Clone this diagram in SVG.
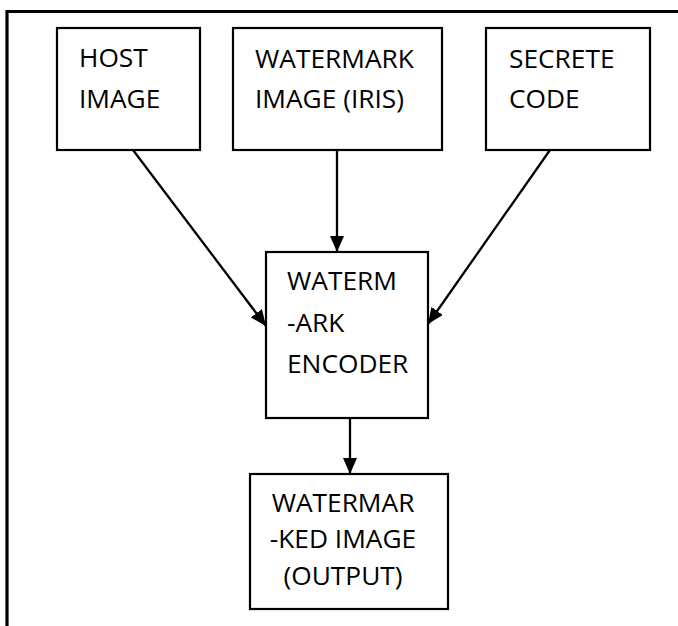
<svg xmlns="http://www.w3.org/2000/svg" width="678" height="626" viewBox="0 0 678 626">
<style>
.box{fill:#fff;stroke:#000;stroke-width:2.2}
.t{font-family:"Open Sans","Liberation Sans",sans-serif;font-size:26.3px;fill:#000}
.c{stroke:#000;stroke-width:2.3;fill:none}
</style>
<defs>
<marker id="ah" markerWidth="16" markerHeight="14" refX="16" refY="7" orient="auto" markerUnits="userSpaceOnUse">
<path d="M0,0 L16,7 L0,14 Z" fill="#000"/>
</marker>
</defs>
<rect width="678" height="626" fill="#fff"/>
<g id="frame">
<path d="M7,626 V11.5 H678" fill="none" stroke="#000" stroke-width="3.2"/>
</g>
<g id="host">
<rect class="box" x="57" y="28" width="143" height="122"/>
<text class="t" x="79" y="67">HOST</text>
<text class="t" x="79" y="108">IMAGE</text>
</g>
<g id="watermark">
<rect class="box" x="233" y="28" width="209" height="122"/>
<text class="t" x="255" y="68">WATERMARK</text>
<text class="t" x="255" y="108">IMAGE (IRIS)</text>
</g>
<g id="secret">
<rect class="box" x="486" y="28" width="164" height="122"/>
<text class="t" x="509" y="68">SECRETE</text>
<text class="t" x="509" y="108">CODE</text>
</g>
<g id="encoder">
<rect class="box" x="266" y="252" width="162" height="166"/>
<text class="t" x="287" y="290">WATERM</text>
<text class="t" x="287" y="332">-ARK</text>
<text class="t" x="287" y="373">ENCODER</text>
</g>
<g id="output">
<rect class="box" x="250" y="474" width="198" height="135"/>
<text class="t" x="343" y="512" text-anchor="middle">WATERMAR</text>
<text class="t" x="343" y="548" text-anchor="middle">-KED IMAGE</text>
<text class="t" x="343" y="585" text-anchor="middle">(OUTPUT)</text>
</g>
<g id="connectors">
<line class="c" x1="133" y1="150" x2="266" y2="326" marker-end="url(#ah)"/>
<line class="c" x1="337" y1="150" x2="337" y2="252" marker-end="url(#ah)"/>
<line class="c" x1="550" y1="150" x2="428" y2="324" marker-end="url(#ah)"/>
<line class="c" x1="350" y1="418" x2="350" y2="474" marker-end="url(#ah)"/>
</g>
</svg>
